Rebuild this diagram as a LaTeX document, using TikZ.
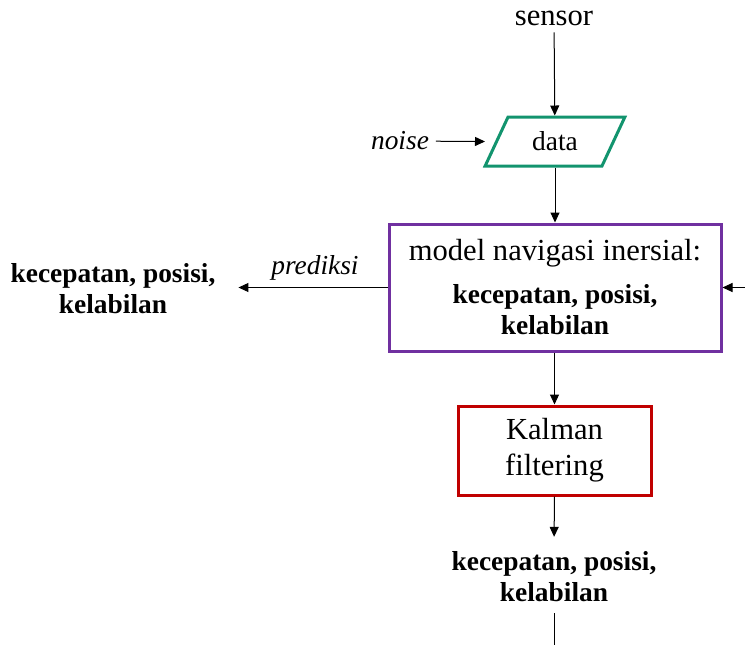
\documentclass[tikz,border=0pt]{standalone}
\usepackage{fontspec}
\setmainfont{Liberation Serif}
\usetikzlibrary{
    arrows.meta,
    shapes.geometric,
    positioning
}
\definecolor{datagreen}{RGB}{18,148,110}
\definecolor{modelpurple}{RGB}{112,48,160}
\definecolor{kalmanred}{RGB}{192,0,0}
\newcommand\bigtext{\fontsize{15.3}{18}\selectfont}
\newcommand\smalltext{\fontsize{13.7}{15.5}\selectfont}

\begin{document}
\begin{tikzpicture}[
    x=0.5pt, y=-0.5pt,
    >={Triangle[length=5pt,width=4.5pt]},
    flow/.style        = {->, line width=0.5pt},
    datanode/.style    = {trapezium, trapezium left angle=60, trapezium right angle=120,
                          trapezium stretches=true, draw=datagreen, line width=1.5pt,
                          minimum width=70pt, minimum height=24.5pt, inner sep=0pt,
                          font=\smalltext},
    modelbox/.style    = {rectangle, draw=modelpurple, line width=1.5pt,
                          minimum width=166pt, minimum height=63.5pt, align=center,
                          font=\smalltext\bfseries},
    kalmanbox/.style   = {rectangle, draw=kalmanred, line width=1.5pt,
                          minimum width=96.5pt, minimum height=44.5pt, align=center,
                          font=\bigtext},
    resulttext/.style  = {align=center, font=\smalltext\bfseries},
]
    \useasboundingbox (0,0) rectangle (745,645);

    %Nodes
    \node[font=\bigtext]            (sensor)  at (554,18)    {sensor};
    \node[datanode]                 (data)    at (555,141.5) {data};
    \node[font=\smalltext\itshape]  (noise)   at (400,141)   {noise};
    \node[modelbox]                 (model)   at (555,287.5)
        {{\bigtext\mdseries model navigasi inersial:}\\[6pt]
         kecepatan, posisi,\\ kelabilan};
    \node[resulttext]               (predout) at (113,289)   {kecepatan, posisi,\\ kelabilan};
    \node[kalmanbox]                (kalman)  at (554.5,450.5) {Kalman\\ filtering};
    \node[resulttext]               (estout)  at (554,577)   {kecepatan, posisi,\\ kelabilan};
    \coordinate (noisein)  at (485,141.5);
    \coordinate (feedback) at (745,287.5);
    \coordinate (loopout)  at (554,645);

    %Lines
    \draw[flow] (sensor) -- (data);
    \draw[flow] (noise) -- (noisein);
    \draw[flow] (data.south -| model.north) -- (model.north);
    \draw[flow, shorten >=8pt] (model.west) -- node[above, font=\smalltext\itshape, xshift=5pt] {prediksi}
                (model.west -| predout.east);
    \draw[flow] (feedback) -- (model.east);
    \draw[flow] (model.south -| kalman.north) -- (kalman.north);
    \draw[flow, shorten >=4pt] (kalman.south) -- (estout.north);
    \draw[line width=0.5pt, shorten <=2pt] (estout.south) -- (loopout);
\end{tikzpicture}
\end{document}
